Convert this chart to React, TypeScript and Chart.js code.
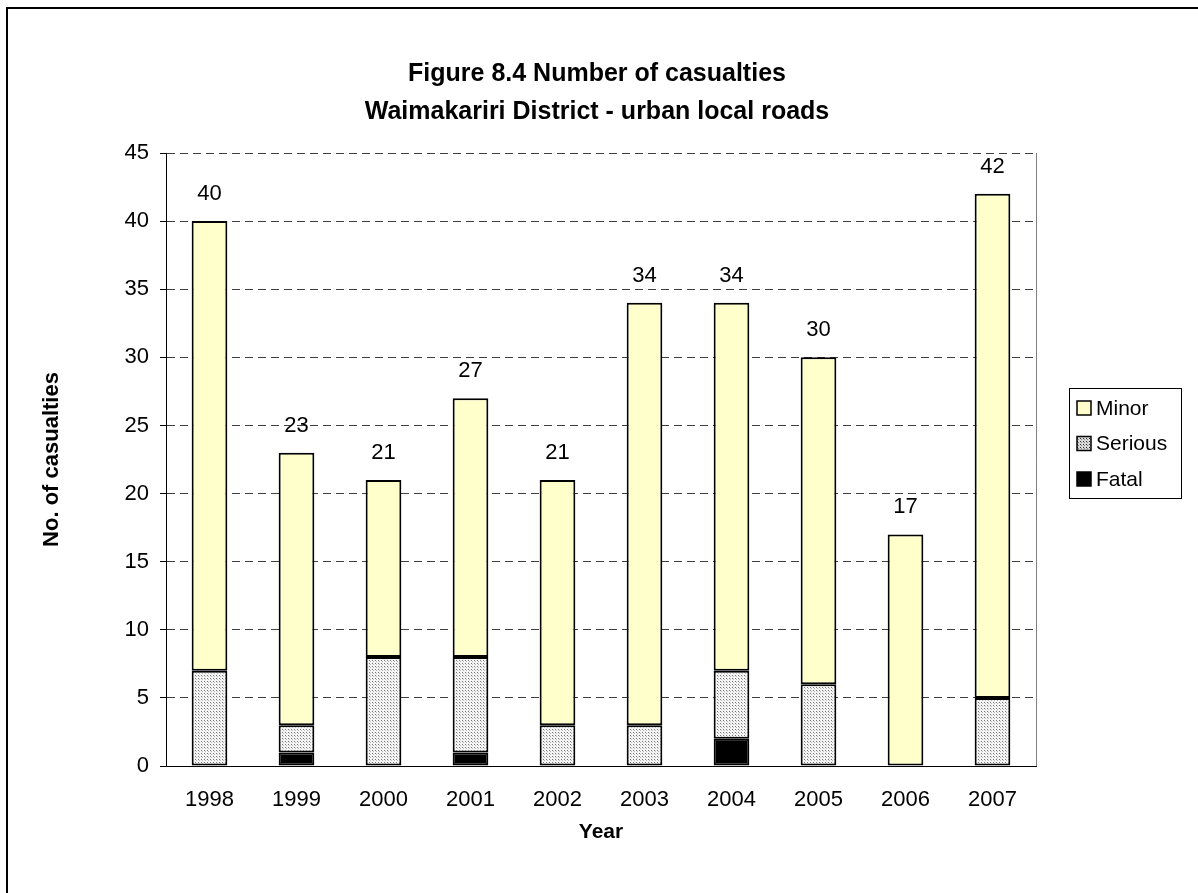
import React, { useEffect, useRef } from "react";
import { Chart, registerables } from "chart.js";
Chart.register(...registerables);

const years = ["1998", "1999", "2000", "2001", "2002", "2003", "2004", "2005", "2006", "2007"];
const fatal = [0, 1, 0, 1, 0, 0, 2, 0, 0, 0];
const serious = [7, 2, 8, 7, 3, 3, 5, 6, 0, 5];
const minor = [33, 20, 13, 19, 18, 31, 27, 24, 17, 37];
const titleLines = ["Figure 8.4 Number of casualties", "Waimakariri District - urban local roads"];
const yTitle = "No. of casualties";
const xTitle = "Year";
const legendLabels = ["Minor", "Serious", "Fatal"];

const FONT = "'Liberation Sans', Arial, sans-serif";
const MINOR_COLOR = "#FFFFCC";
const GRID_COLOR = "#404040";

function makePattern(dark: boolean): CanvasPattern | string {
  const c = document.createElement("canvas");
  c.width = 3;
  c.height = 3;
  const ctx = c.getContext("2d");
  if (!ctx) return "#bbb";
  ctx.fillStyle = dark ? "#d8d8d8" : "#f4f4f4";
  ctx.fillRect(0, 0, 3, 3);
  ctx.fillStyle = dark ? "#333" : "#777";
  ctx.fillRect(0, 0, 1, 1);
  ctx.fillStyle = dark ? "#888" : "#bbb";
  ctx.fillRect(1, 1, 1, 1);
  const p = ctx.createPattern(c, "repeat");
  return p || "#bbb";
}

export default function App() {
  const ref = useRef<HTMLCanvasElement>(null);
  useEffect(() => {
    document.body.style.margin = "0";
    const canvas = ref.current;
    if (!canvas) return;
    const pattern = makePattern(false);
    const legendPattern = makePattern(true);
    const nz = (a: number[]) => a.map((v) => (v === 0 ? null : v));
    const totals = years.map((_, i) => fatal[i] + serious[i] + minor[i]);

    const decor = {
      id: "decor",
      beforeDraw(chart: any) {
        const ctx = chart.ctx;
        ctx.save();
        ctx.fillStyle = "#fff";
        ctx.fillRect(0, 0, chart.width, chart.height);
        ctx.restore();
      },
      beforeDatasetsDraw(chart: any) {
        const ctx = chart.ctx;
        const a = chart.chartArea;
        ctx.save();
        ctx.strokeStyle = "#808080";
        ctx.lineWidth = 1;
        ctx.beginPath();
        ctx.moveTo(a.right + 0.5, a.top);
        ctx.lineTo(a.right + 0.5, a.bottom);
        ctx.stroke();
        ctx.restore();
      },
      afterDraw(chart: any) {
        const ctx = chart.ctx;
        const a = chart.chartArea;
        const ys = chart.scales.y;
        const xs = chart.scales.x;
        ctx.save();
        ctx.strokeStyle = "#000";
        ctx.lineWidth = 2;
        ctx.beginPath();
        ctx.moveTo(7, chart.height + 5);
        ctx.lineTo(7, 8);
        ctx.lineTo(chart.width + 5, 8);
        ctx.stroke();
        ctx.fillStyle = "#000";
        ctx.textAlign = "center";
        ctx.textBaseline = "middle";
        ctx.font = `bold 25px ${FONT}`;
        ctx.fillText(titleLines[0], 597, 74);
        ctx.fillText(titleLines[1], 597, 112);
        ctx.font = `bold 21px ${FONT}`;
        ctx.fillText(xTitle, (a.left + a.right) / 2, 832);
        ctx.save();
        ctx.translate(52, (a.top + a.bottom) / 2);
        ctx.rotate(-Math.PI / 2);
        ctx.font = `bold 22px ${FONT}`;
        ctx.fillText(yTitle, 0, 0);
        ctx.restore();
        ctx.font = `22px ${FONT}`;
        totals.forEach((t, i) => {
          ctx.fillText(String(t), xs.getPixelForValue(i), ys.getPixelForValue(t) - 27);
        });
        ctx.strokeStyle = "#000";
        ctx.lineWidth = 1;
        ctx.strokeRect(1069.5, 388.5, 112, 110);
        const fills: any[] = [MINOR_COLOR, legendPattern, "#000"];
        ctx.textAlign = "left";
        ctx.font = `21px ${FONT}`;
        legendLabels.forEach((lab, k) => {
          const cy = 408 + k * 35.5;
          ctx.fillStyle = fills[k];
          ctx.fillRect(1077, cy - 7, 14, 14);
          ctx.strokeStyle = "#000";
          ctx.lineWidth = 1.5;
          ctx.strokeRect(1077, cy - 7, 14, 14);
          ctx.fillStyle = "#000";
          ctx.fillText(lab, 1096, cy + 1);
        });
        ctx.restore();
      },
    };

    const chart = new Chart(canvas, {
      type: "bar",
      data: {
        labels: years,
        datasets: [
          { label: "Fatal", data: nz(fatal), backgroundColor: "#000", borderColor: "#000", borderWidth: 2, borderSkipped: false },
          { label: "Serious", data: nz(serious), backgroundColor: pattern as any, borderColor: "#000", borderWidth: 2, borderSkipped: false },
          { label: "Minor", data: nz(minor), backgroundColor: MINOR_COLOR, borderColor: "#000", borderWidth: 2, borderSkipped: false },
        ],
      },
      options: {
        responsive: false,
        animation: false,
        devicePixelRatio: 1,
        layout: { padding: { left: 0, right: 162, top: 153, bottom: 0 } },
        datasets: { bar: { categoryPercentage: 1, barPercentage: 0.41 } },
        plugins: { legend: { display: false }, title: { display: false }, tooltip: { enabled: false } },
        scales: {
          x: {
            stacked: true,
            grid: { display: false, drawTicks: false },
            border: { display: true, color: "#000", width: 1 },
            ticks: { color: "#000", font: { family: FONT, size: 22 }, padding: 21 },
            afterFit: (s: any) => { s.height = 893 - 766; },
          },
          y: {
            stacked: true,
            min: 0,
            max: 45,
            ticks: { stepSize: 5, color: "#000", font: { family: FONT, size: 22 }, padding: 11 },
            grid: { color: GRID_COLOR, lineWidth: 1, tickLength: 6, tickColor: "#000", drawOnChartArea: true },
            border: { display: true, color: "#000", width: 1, dash: [8, 5] },
            afterFit: (s: any) => { s.width = 166; },
          },
        },
      },
      plugins: [decor],
    } as any);
    return () => chart.destroy();
  }, []);
  return (
    <div style={{ width: 1198, height: 893 }}>
      <canvas ref={ref} width={1198} height={893} style={{ display: "block" }} />
    </div>
  );
}
